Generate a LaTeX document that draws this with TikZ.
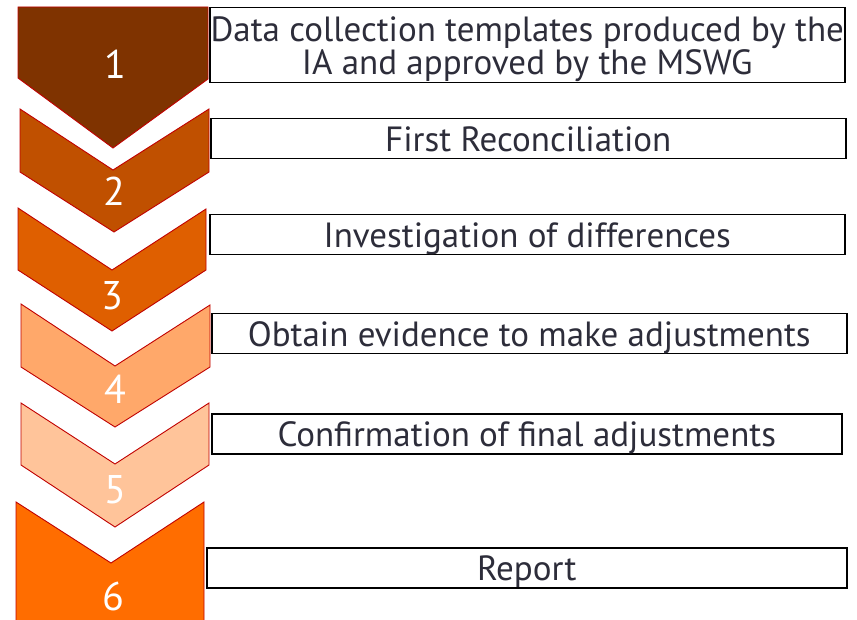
\documentclass[tikz,border=0pt]{standalone}
\usepackage{fontspec}
\setmainfont{PT Sans}
\definecolor{cA}{HTML}{7F3300}
\definecolor{cB}{HTML}{C05000}
\definecolor{cC}{HTML}{DF5F00}
\definecolor{cD}{HTML}{FFA86A}
\definecolor{cE}{HTML}{FFC49A}
\definecolor{cF}{HTML}{FF6D00}
\definecolor{edge}{HTML}{C00000}
\definecolor{txt}{HTML}{2D2D3A}
\tikzset{
  chev/.style={draw=edge, line width=0.9pt, line join=miter},
  numlbl/.style={text=white, font=\fontsize{40}{40}\selectfont, inner sep=0pt},
  stepbox/.style={draw=black, line width=1.5pt, fill=white, inner sep=0pt, anchor=north west,
    text=txt, font=\fontsize{35}{32}\selectfont, align=center, text depth=0pt},
}
\begin{document}
\begin{tikzpicture}[x=1pt,y=-1pt]
\useasboundingbox (0,0) rectangle (857,620);
% chevrons
\begin{scope}
\clip (0,0) rectangle (857,620);
\draw[chev, fill=cA] (18,7) -- (208,7) -- (208,79) -- (113,148) -- (18,78) -- cycle;
\draw[chev, fill=cB] (20,109) -- (113,170) -- (209,109) -- (209,172) -- (114,232) -- (20,172) -- cycle;
\draw[chev, fill=cC] (18,208) -- (112,270) -- (206,209) -- (206,270) -- (112,331) -- (18,270) -- cycle;
\draw[chev, fill=cD] (21,304) -- (115,366) -- (210,305) -- (210,367) -- (115,427) -- (21,367) -- cycle;
\draw[chev, fill=cE] (21,403) -- (115,464) -- (209,403) -- (209,465) -- (115,527) -- (21,465) -- cycle;
\draw[chev, fill=cF] (16,502) -- (111,563) -- (204,502) -- (204,640) -- (16,640) -- cycle;
\end{scope}
% numbers
\node[numlbl] (n1) at (115,64) {1};
\node[numlbl] (n2) at (114,191) {2};
\node[numlbl] (n3) at (112,296) {3};
\node[numlbl] (n4) at (115,389) {4};
\node[numlbl] (n5) at (115,490) {5};
\node[numlbl] (n6) at (113,596) {6};
% boxes
\node[stepbox, minimum width=635pt, minimum height=75pt] (b1) at (209,7) {Data collection templates produced by the\\IA and approved by the MSWG};
\node[stepbox, minimum width=635pt, minimum height=40pt] (b2) at (210,118) {First Reconciliation};
\node[stepbox, minimum width=635pt, minimum height=40pt] (b3) at (209,214) {Investigation of differences};
\node[stepbox, minimum width=635pt, minimum height=40pt] (b4) at (211,313) {Obtain evidence to make adjustments};
\node[stepbox, minimum width=630pt, minimum height=40pt] (b5) at (211,413) {Confirmation of final adjustments};
\node[stepbox, minimum width=640pt, minimum height=40pt] (b6) at (206,547) {Report};
\end{tikzpicture}
\end{document}
